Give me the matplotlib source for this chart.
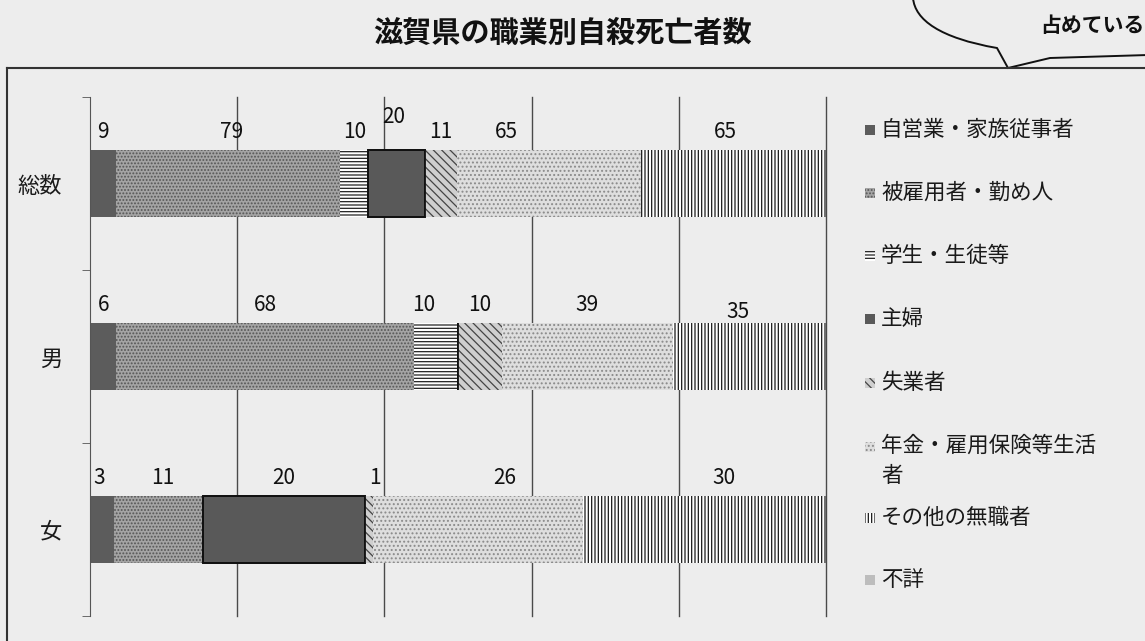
import numpy as np
import matplotlib
matplotlib.use('Agg')
import matplotlib.pyplot as plt
from matplotlib.patches import Rectangle, PathPatch
from matplotlib.path import Path
from matplotlib.lines import Line2D

plt.rcParams['font.family'] = ['Noto Sans CJK JP', 'DejaVu Sans']
plt.rcParams['hatch.linewidth'] = 0.9

# データ
rows = ['総数', '男', '女']
jobs = ['自営業・家族従事者', '被雇用者・勤め人', '学生・生徒等', '主婦', '失業者',
        '年金・雇用保険等生活\n者', 'その他の無職者', '不詳']
jieigyo = [9, 6, 3]
hiyou = [79, 68, 11]
gakusei = [10, 10, 0]
shufu = [20, 0, 20]
shitsugyo = [11, 10, 1]
nenkin = [65, 39, 26]
sonota = [65, 35, 30]
fusho = [0, 0, 0]
series = [jieigyo, hiyou, gakusei, shufu, shitsugyo, nenkin, sonota, fusho]

# 見た目 (塗り, ハッチ色, ハッチ, 枠線幅)
styles = [
    ('#5c5c5c', '#5c5c5c', None, 0),
    ('#a4a4a4', '#555555', '.....', 0),
    ('#ffffff', '#222222', '-----', 0),
    ('#595959', '#111111', None, 1.3),
    ('#cfcfcf', '#444444', '\\\\\\\\', 0),
    ('#dedede', '#8a8a8a', '....', 0),
    ('#ffffff', '#1a1a1a', '|||||', 0),
    ('#bdbdbd', '#bdbdbd', None, 0),
]

# ラベル位置の微調整 (pt)
nudges = [
    [(0, 0), (3, 0), (0, 0), (-2, 11), (0, 0), (-31, 0), (-6, 0)],
    [(0, 0), (0, 0), (-9, 0), (0, 0), (0, 0), (0, 0), (-8, -5)],
    [(-2, 0), (3, 0), (0, 0), (0, 0), (4, 0), (19, 0), (14, 0)],
]

bg = '#ededed'
fig = plt.figure(figsize=(11.45, 6.41), dpi=100, facecolor=bg)
ax = fig.add_axes([90 / 1145, 1 - 616 / 641, 736 / 1145, 519 / 641], facecolor=bg)

data = np.array(series, dtype=float)
totals = data.sum(axis=0)
pct = data / totals * 100
y = np.arange(len(rows))
h = 0.39

for xv in [20, 40, 60, 80, 100]:
    ax.axvline(xv, color='#4a4a4a', lw=1.0, zorder=0, clip_on=False)

left = np.zeros(len(rows))
for k, (vals, p) in enumerate(zip(series, pct)):
    fc, hc, hatch, lw = styles[k]
    ax.barh(y, p, left=left, height=h, color=fc, edgecolor=hc, hatch=hatch,
            linewidth=lw, zorder=2)
    if lw > 0:
        ax.barh(y, p, left=left, height=h, fill=False, edgecolor='#111111',
                linewidth=lw, zorder=3)
    for i in range(len(rows)):
        if vals[i] == 0:
            continue
        dx, dy = nudges[i][k] if k < len(nudges[i]) else (0, 0)
        ax.annotate(str(vals[i]), (left[i] + p[i] / 2, y[i] - h / 2),
                    xytext=(dx, 5 + dy), textcoords='offset points',
                    ha='center', va='bottom', fontsize=15, color='#111111')
    left += p

ax.set_xlim(0, 100)
ax.set_ylim(2.5, -0.5)
ax.set_yticks(y)
ax.set_yticklabels(rows, fontsize=16, color='#1a1a1a')
ax.set_yticks([-0.5, 0.5, 1.5, 2.5], minor=True)
ax.tick_params(axis='y', which='major', length=0, pad=20)
ax.tick_params(axis='y', which='minor', length=6, direction='out', color='#555555')
ax.set_xticks([])
for s in ['top', 'right', 'bottom']:
    ax.spines[s].set_visible(False)
ax.spines['left'].set_color('#555555')


def fx(px):
    return px / 1145


def fy(py):
    return 1 - py / 641


# 凡例
leg_y = [130, 193, 256, 319, 383, 447, 518, 580]
for k, lab in enumerate(jobs):
    fc, hc, hatch, lw = styles[k]
    sq = Rectangle((fx(865), fy(leg_y[k] + 5)), 10 / 1145, 10 / 641,
                   transform=fig.transFigure, facecolor=fc, edgecolor=hc,
                   hatch=hatch, linewidth=0)
    fig.add_artist(sq)
    if '\n' in lab:
        fig.text(fx(881), fy(leg_y[k] - 12), lab, fontsize=15.5, va='top',
                 ha='left', color='#1a1a1a', linespacing=1.45)
    else:
        fig.text(fx(881), fy(leg_y[k]), lab, fontsize=15.5, va='center',
                 ha='left', color='#1a1a1a')

# タイトル
fig.text(fx(562), fy(33), '滋賀県の職業別自殺死亡者数', fontsize=21, ha='center',
         va='center', color='#111111', fontweight='bold')

# 外枠
fig.add_artist(Line2D([fx(7), 1], [fy(68), fy(68)], transform=fig.transFigure,
                      color='#333333', lw=1.5))
fig.add_artist(Line2D([fx(7), fx(7)], [fy(68), 0], transform=fig.transFigure,
                      color='#333333', lw=1.5))

# 吹き出し
verts = [(913, -2), (915, 20), (940, 38), (997, 48), (1008, 68), (1050, 58), (1148, 55)]
codes = [Path.MOVETO, Path.CURVE4, Path.CURVE4, Path.CURVE4, Path.LINETO, Path.LINETO, Path.LINETO]
path = Path([(fx(a), fy(b)) for a, b in verts], codes)
fig.add_artist(PathPatch(path, transform=fig.transFigure, fill=False, lw=1.4,
                         edgecolor='#111111'))
fig.text(fx(1040), fy(25), '占めている', fontsize=15, ha='left', va='center',
         color='#111111', fontweight='bold')

plt.savefig('out.png', dpi=100, facecolor=bg)
